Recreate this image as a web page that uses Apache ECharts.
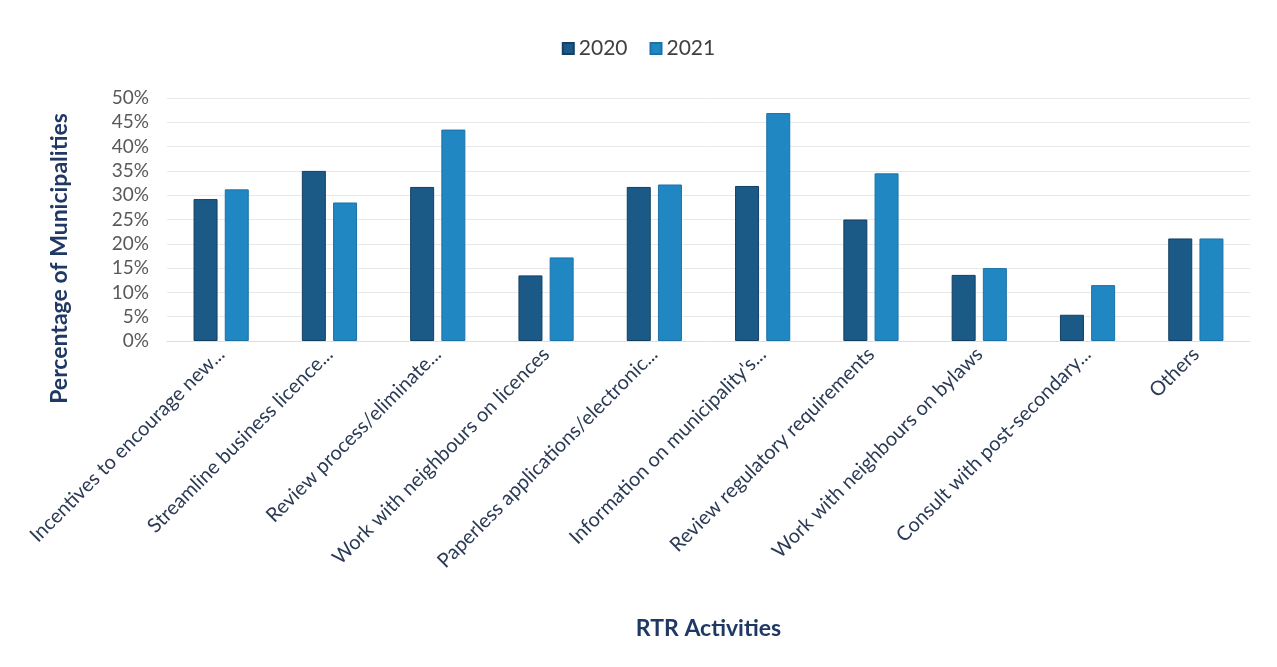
<!DOCTYPE html>
<html>
<head>
<meta charset="utf-8">
<script src="https://cdn.jsdelivr.net/npm/echarts@6/dist/echarts.min.js"></script>
<style>
  html, body { margin: 0; padding: 0; background: #fff; }
  #chart { width: 1277px; height: 667px; }
</style>
</head>
<body>
<div id="chart"></div>
<script>
  // RTR activities
  const categories = [
    'Incentives to encourage new...',
    'Streamline business licence...',
    'Review process/eliminate...',
    'Work with neighbours on licences',
    'Paperless applications/electronic...',
    "Information on municipality's...",
    'Review regulatory requirements',
    'Work with neighbours on bylaws',
    'Consult with post-secondary...',
    'Others'
  ]
  const values2020 = [29.2, 35.0, 31.7, 13.5, 31.7, 31.9, 25.0, 13.6, 5.4, 21.1]
  const values2021 = [31.2, 28.5, 43.5, 17.2, 32.2, 46.9, 34.5, 15.0, 11.5, 21.1]

  const chart = echarts.init(document.getElementById('chart'))
  chart.setOption({
    animation: false,
    textStyle: { fontFamily: 'Lato' },
    color: ['#1b5a87', '#2187c2'],
    legend: {
      top: 33,
      left: 'center',
      itemWidth: 11,
      itemHeight: 11,
      itemGap: 22,
      icon: 'rect',
      textStyle: { fontSize: 21, color: '#404040', fontFamily: 'Lato' }
    },
    grid: { left: 167, right: 27, top: 98, bottom: 326 },
    xAxis: {
      type: 'category',
      data: categories,
      name: 'RTR Activities',
      nameLocation: 'middle',
      nameGap: 276,
      nameTextStyle: { fontSize: 23, fontWeight: 'bold', color: '#1f3864', fontFamily: 'Lato' },
      axisLine: { show: true, lineStyle: { color: '#dedede' } },
      axisTick: { show: false },
      axisLabel: {
        interval: 0,
        rotate: 45,
        margin: 10,
        fontSize: 20,
        color: '#2b3a55',
        fontFamily: 'Lato'
      }
    },
    yAxis: {
      type: 'value',
      min: 0,
      max: 50,
      interval: 5,
      name: 'Percentage of Municipalities',
      nameLocation: 'middle',
      nameGap: 96,
      nameTextStyle: { fontSize: 23, fontWeight: 'bold', color: '#1f3864', fontFamily: 'Lato', padding: [0, 78, 0, 0] },
      axisLine: { show: false },
      axisTick: { show: false },
      axisLabel: {
        formatter: '{value}%',
        fontSize: 19,
        color: '#595959',
        margin: 18,
        fontFamily: 'Lato'
      },
      splitLine: { lineStyle: { color: '#e8e8e8' } }
    },
    series: [
      {
        name: '2020',
        type: 'bar',
        data: values2020,
        barWidth: 24,
        barGap: '30%',
        itemStyle: { borderColor: '#123f63', borderWidth: 1 }
      },
      {
        name: '2021',
        type: 'bar',
        data: values2021,
        barWidth: 24,
        itemStyle: { borderColor: '#1a73a8', borderWidth: 1 }
      }
    ]
  })
</script>
</body>
</html>
